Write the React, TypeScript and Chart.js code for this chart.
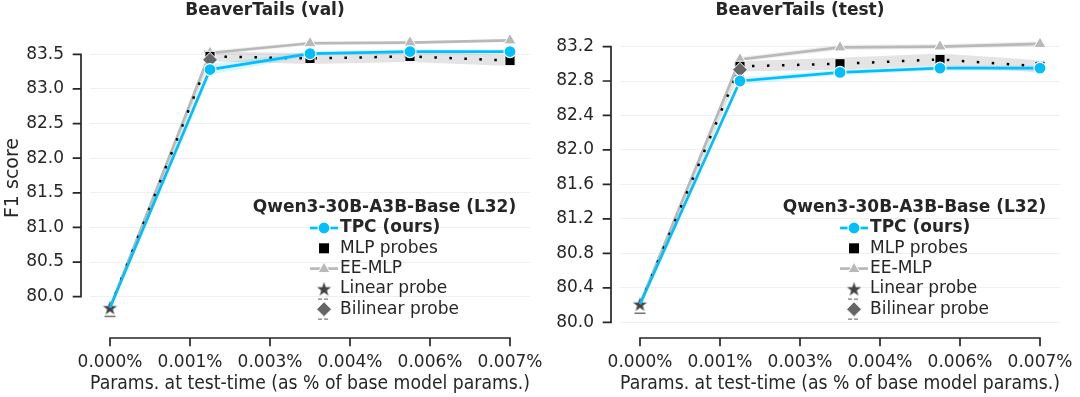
import React, { useEffect, useRef } from 'react';
import { Chart, registerables } from 'chart.js';

Chart.register(...registerables);

// ---------- data ----------
const X_POINTS = [0, 0.00175, 0.0035, 0.00525, 0.007];
const X_TICK_VALUES = [0, 0.0014, 0.0028, 0.0042, 0.0056, 0.007];
const X_TICK_LABELS = ['0.000%', '0.001%', '0.003%', '0.004%', '0.006%', '0.007%'];
const X_TITLE = 'Params. at test-time (as % of base model params.)';
const BILINEAR_X = 0.00175;

const VAL_TITLE = 'BeaverTails (val)';
const VAL_TPC = [79.84, 83.28, 83.51, 83.54, 83.54];
const VAL_TPC_ERR = [0.04, 0.08, 0.03, 0.03, 0.03];
const VAL_MLP = [79.84, 83.47, 83.44, 83.47, 83.41];
const VAL_MLP_ERR = [0.05, 0.07, 0.08, 0.08, 0.08];
const VAL_EE = [79.84, 83.52, 83.66, 83.67, 83.7];
const VAL_EE_ERR = [0.05, 0.03, 0.03, 0.02, 0.02];
const VAL_LINEAR = 79.84;
const VAL_LINEAR_ERR = 0.125;
const VAL_BILINEAR = 83.42;
const VAL_BILINEAR_ERR = 0.12;
const VAL_Y_TICKS = [80.0, 80.5, 81.0, 81.5, 82.0, 82.5, 83.0, 83.5];
const VAL_Y_MIN = 79.548;
const VAL_Y_MAX = 83.88;

const TEST_TITLE = 'BeaverTails (test)';
const TEST_TPC = [80.21, 82.8, 82.9, 82.95, 82.95];
const TEST_TPC_ERR = [0.04, 0.04, 0.03, 0.03, 0.03];
const TEST_MLP = [80.21, 82.97, 83.0, 83.05, 82.97];
const TEST_MLP_ERR = [0.05, 0.06, 0.07, 0.07, 0.07];
const TEST_EE = [80.21, 83.05, 83.19, 83.2, 83.23];
const TEST_EE_ERR = [0.04, 0.03, 0.03, 0.03, 0.03];
const TEST_LINEAR = 80.21;
const TEST_LINEAR_ERR = 0.105;
const TEST_BILINEAR = 82.93;
const TEST_BILINEAR_ERR = 0.07;
const TEST_Y_TICKS = [80.0, 80.4, 80.8, 81.2, 81.6, 82.0, 82.4, 82.8, 83.2];
const TEST_Y_MIN = 79.934;
const TEST_Y_MAX = 83.415;

const LEGEND_TITLE = 'Qwen3-30B-A3B-Base (L32)';
const LEGEND_LABELS = ['TPC (ours)', 'MLP probes', 'EE-MLP', 'Linear probe', 'Bilinear probe'];
const Y_TITLE = 'F1 score';

// ---------- styles ----------
const FONT = "'DejaVu Sans', 'Liberation Sans', sans-serif";
const FS = 17;
const FS_LABEL = 19;
const TEXT = '#262626';
const CYAN = '#00bfff';
const EE_GRAY = '#b9b9b9';
const STAR_COLOR = '#444444';
const DIAMOND_COLOR = '#666666';
const ERR_COLOR = '#7a7a7a';

function makeStar(color: string, R: number): HTMLCanvasElement {
  const size = Math.ceil(R * 2 + 2);
  const c = document.createElement('canvas');
  c.width = size;
  c.height = size;
  const g = c.getContext('2d')!;
  g.fillStyle = color;
  g.beginPath();
  for (let i = 0; i < 10; i++) {
    const r = i % 2 === 0 ? R : R * 0.4;
    const a = -Math.PI / 2 + (i * Math.PI) / 5;
    const px = size / 2 + r * Math.cos(a);
    const py = size / 2 + r * Math.sin(a) + 0.6;
    if (i === 0) g.moveTo(px, py);
    else g.lineTo(px, py);
  }
  g.closePath();
  g.fill();
  return c;
}

type Panel = {
  title: string;
  tpc: number[]; tpcErr: number[];
  mlp: number[]; mlpErr: number[];
  ee: number[]; eeErr: number[];
  linear: number; linearErr: number;
  bilinear: number; bilinearErr: number;
  yTicks: number[]; yMin: number; yMax: number;
  yTitle: string | null;
  yAxisWidth: number;
  padRight: number;
  width: number;
};

const PANELS: Panel[] = [
  {
    title: VAL_TITLE, tpc: VAL_TPC, tpcErr: VAL_TPC_ERR, mlp: VAL_MLP, mlpErr: VAL_MLP_ERR,
    ee: VAL_EE, eeErr: VAL_EE_ERR, linear: VAL_LINEAR, linearErr: VAL_LINEAR_ERR,
    bilinear: VAL_BILINEAR, bilinearErr: VAL_BILINEAR_ERR, yTicks: VAL_Y_TICKS,
    yMin: VAL_Y_MIN, yMax: VAL_Y_MAX, yTitle: Y_TITLE, yAxisWidth: 90, padRight: 30, width: 560,
  },
  {
    title: TEST_TITLE, tpc: TEST_TPC, tpcErr: TEST_TPC_ERR, mlp: TEST_MLP, mlpErr: TEST_MLP_ERR,
    ee: TEST_EE, eeErr: TEST_EE_ERR, linear: TEST_LINEAR, linearErr: TEST_LINEAR_ERR,
    bilinear: TEST_BILINEAR, bilinearErr: TEST_BILINEAR_ERR, yTicks: TEST_Y_TICKS,
    yMin: TEST_Y_MIN, yMax: TEST_Y_MAX, yTitle: null, yAxisWidth: 80, padRight: 20, width: 540,
  },
];

const pts = (vals: number[]) => X_POINTS.map((x, i) => ({ x, y: vals[i] }));
const band = (vals: number[], err: number[], sign: number) =>
  X_POINTS.map((x, i) => ({ x, y: vals[i] + sign * err[i] }));

function buildChart(canvas: HTMLCanvasElement, p: Panel): Chart {
  const star = makeStar(STAR_COLOR, 7.5);
  const legendStar = makeStar(STAR_COLOR, 7.5);
  const markerRadii = [0, 6, 6, 6, 6];

  const overlay = {
    id: 'overlay',
    beforeDatasetsDraw(chart: any) {
      const { ctx, scales } = chart;
      const xs = scales.x, ys = scales.y;
      ctx.save();
      ctx.strokeStyle = ERR_COLOR;
      ctx.lineWidth = 1.6;
      // linear probe: lower cap (upper one hidden below the lines/star)
      const lx = xs.getPixelForValue(0);
      const lb = ys.getPixelForValue(p.linear - p.linearErr);
      ctx.beginPath();
      ctx.moveTo(lx - 5.5, lb); ctx.lineTo(lx + 5.5, lb);
      ctx.stroke();
      // bilinear probe: caps above and below
      const bx = xs.getPixelForValue(BILINEAR_X);
      const bt = ys.getPixelForValue(p.bilinear + p.bilinearErr);
      const bb = ys.getPixelForValue(p.bilinear - p.bilinearErr);
      ctx.setLineDash([4, 2]);
      ctx.beginPath();
      ctx.moveTo(bx - 6, bt); ctx.lineTo(bx + 6, bt);
      ctx.moveTo(bx - 6, bb); ctx.lineTo(bx + 6, bb);
      ctx.stroke();
      ctx.restore();
    },
    afterDraw(chart: any) {
      const { ctx, scales, chartArea: ca } = chart;
      const xs = scales.x, ys = scales.y;
      ctx.save();
      ctx.strokeStyle = TEXT;
      ctx.lineWidth = 1.7;
      ctx.lineCap = 'butt';
      // y spine (offset, trimmed)
      const sx = ca.left - 9;
      const yTop = ys.getPixelForValue(p.yTicks[p.yTicks.length - 1]);
      const yBot = ys.getPixelForValue(p.yTicks[0]);
      ctx.beginPath();
      ctx.moveTo(sx, yTop - 0.85); ctx.lineTo(sx, yBot + 0.85);
      for (const t of p.yTicks) {
        const py = ys.getPixelForValue(t);
        ctx.moveTo(sx - 8.3, py); ctx.lineTo(sx, py);
      }
      ctx.stroke();
      // x spine
      const sy = ca.bottom + 10;
      const xl = xs.getPixelForValue(X_TICK_VALUES[0]);
      const xr = xs.getPixelForValue(X_TICK_VALUES[X_TICK_VALUES.length - 1]);
      ctx.beginPath();
      ctx.moveTo(xl - 0.85, sy); ctx.lineTo(xr + 0.85, sy);
      for (const t of X_TICK_VALUES) {
        const px = xs.getPixelForValue(t);
        ctx.moveTo(px, sy); ctx.lineTo(px, sy + 8.3);
      }
      ctx.stroke();

      // legend
      const cx = ca.right - 145.5;
      const titleY = ca.top + 179.5;
      ctx.fillStyle = TEXT;
      ctx.textBaseline = 'middle';
      ctx.textAlign = 'center';
      ctx.font = `bold ${FS}px ${FONT}`;
      ctx.fillText(LEGEND_TITLE, cx, titleY);
      ctx.textAlign = 'left';
      let maxW = 0;
      LEGEND_LABELS.forEach((l, i) => {
        ctx.font = `${i === 0 ? 'bold ' : ''}${FS}px ${FONT}`;
        maxW = Math.max(maxW, ctx.measureText(l).width);
      });
      const blockW = 28 + 2 + maxW;
      const x0 = cx - blockW / 2;
      const hc = x0 + 14;
      LEGEND_LABELS.forEach((l, i) => {
        const y = ca.top + 200 + i * 20.3;
        ctx.font = `${i === 0 ? 'bold ' : ''}${FS}px ${FONT}`;
        ctx.fillStyle = TEXT;
        ctx.fillText(l, x0 + 30, y);
        if (i === 0) {
          ctx.strokeStyle = CYAN; ctx.lineWidth = 2.7;
          ctx.beginPath(); ctx.moveTo(x0, y); ctx.lineTo(x0 + 28, y); ctx.stroke();
          ctx.fillStyle = CYAN; ctx.strokeStyle = '#fff'; ctx.lineWidth = 1.2;
          ctx.beginPath(); ctx.arc(hc, y, 6, 0, Math.PI * 2); ctx.fill(); ctx.stroke();
        } else if (i === 1) {
          ctx.fillStyle = '#000';
          ctx.fillRect(hc - 5, y - 5, 10, 10);
        } else if (i === 2) {
          ctx.strokeStyle = EE_GRAY; ctx.lineWidth = 2.7;
          ctx.beginPath(); ctx.moveTo(x0, y); ctx.lineTo(x0 + 28, y); ctx.stroke();
          ctx.fillStyle = EE_GRAY; ctx.strokeStyle = '#fff'; ctx.lineWidth = 1;
          ctx.beginPath();
          ctx.moveTo(hc, y - 6.5); ctx.lineTo(hc + 6, y + 4); ctx.lineTo(hc - 6, y + 4); ctx.closePath();
          ctx.fill(); ctx.stroke();
        } else if (i === 3) {
          ctx.drawImage(legendStar, hc - legendStar.width / 2, y - legendStar.height / 2);
        } else {
          ctx.strokeStyle = ERR_COLOR; ctx.lineWidth = 1.3;
          ctx.setLineDash([4, 2]);
          ctx.beginPath();
          ctx.moveTo(hc - 6, y - 10); ctx.lineTo(hc + 6, y - 10);
          ctx.moveTo(hc - 6, y + 10); ctx.lineTo(hc + 6, y + 10);
          ctx.stroke();
          ctx.setLineDash([]);
          ctx.fillStyle = DIAMOND_COLOR; ctx.strokeStyle = '#fff'; ctx.lineWidth = 1;
          ctx.beginPath();
          ctx.moveTo(hc, y - 7.5); ctx.lineTo(hc + 7.5, y); ctx.lineTo(hc, y + 7.5); ctx.lineTo(hc - 7.5, y); ctx.closePath();
          ctx.fill(); ctx.stroke();
        }
      });
      ctx.restore();
    },
  };

  const tickFont = { family: FONT, size: FS };
  const labelFont = { family: FONT, size: FS_LABEL };

  return new Chart(canvas, {
    type: 'line',
    data: {
      datasets: [
        {
          label: 'TPC', data: pts(p.tpc), borderColor: CYAN, borderWidth: 2.7,
          pointRadius: markerRadii, pointBackgroundColor: CYAN, pointBorderColor: '#ffffff',
          pointBorderWidth: 1.2, pointStyle: 'circle', tension: 0, order: 0, fill: false,
        },
        {
          label: 'Bilinear', data: [{ x: BILINEAR_X, y: p.bilinear }], showLine: false,
          pointStyle: 'rectRot', pointRadius: 7.5, pointBackgroundColor: DIAMOND_COLOR,
          pointBorderColor: '#ffffff', pointBorderWidth: 1, order: 1,
        },
        {
          label: 'Linear', data: [{ x: 0, y: p.linear }], showLine: false,
          pointStyle: star as any, pointRadius: 8, order: 2,
        },
        {
          label: 'MLP', data: pts(p.mlp), borderColor: '#000000', borderWidth: 2.5,
          borderDash: [2.5, 12.5], pointStyle: 'rect', pointRadius: [0, 7.2, 7.2, 7.2, 7.2],
          pointBackgroundColor: '#000000', pointBorderColor: '#ffffff', pointBorderWidth: 1,
          tension: 0, order: 3, fill: false,
        },
        {
          label: 'EE', data: pts(p.ee), borderColor: EE_GRAY, borderWidth: 2.7,
          pointStyle: 'triangle', pointRadius: [0, 7, 7, 7, 7], pointBackgroundColor: EE_GRAY,
          pointBorderColor: '#ffffff', pointBorderWidth: 1, tension: 0, order: 4, fill: false,
        },
        {
          label: 'tpcLo', data: band(p.tpc, p.tpcErr, -1), borderColor: 'transparent',
          borderWidth: 0, pointRadius: 0, fill: false, order: 5,
        },
        {
          label: 'tpcHi', data: band(p.tpc, p.tpcErr, 1), borderColor: 'transparent',
          borderWidth: 0, pointRadius: 0, fill: '-1', backgroundColor: 'rgba(0,191,255,0.15)', order: 5,
        },
        {
          label: 'mlpLo', data: band(p.mlp, p.mlpErr, -1), borderColor: 'transparent',
          borderWidth: 0, pointRadius: 0, fill: false, order: 6,
        },
        {
          label: 'mlpHi', data: band(p.mlp, p.mlpErr, 1), borderColor: 'transparent',
          borderWidth: 0, pointRadius: 0, fill: '-1', backgroundColor: 'rgba(120,120,120,0.2)', order: 6,
        },
        {
          label: 'eeLo', data: band(p.ee, p.eeErr, -1), borderColor: 'transparent',
          borderWidth: 0, pointRadius: 0, fill: false, order: 7,
        },
        {
          label: 'eeHi', data: band(p.ee, p.eeErr, 1), borderColor: 'transparent',
          borderWidth: 0, pointRadius: 0, fill: '-1', backgroundColor: 'rgba(170,170,170,0.18)', order: 7,
        },
      ] as any,
    },
    options: {
      responsive: false,
      animation: false,
      devicePixelRatio: 1,
      layout: { padding: { left: 0, right: p.padRight, top: 0, bottom: 0 } },
      plugins: {
        legend: { display: false },
        tooltip: { enabled: false },
        title: {
          display: true, text: p.title, color: TEXT,
          font: { family: FONT, size: FS, weight: 'bold' },
          padding: { top: 0, bottom: 7.6 },
        },
      },
      scales: {
        x: {
          type: 'linear', min: -0.00035, max: 0.00735,
          afterBuildTicks: (s: any) => { s.ticks = X_TICK_VALUES.map((v) => ({ value: v })); },
          afterFit: (s: any) => { s.height = 69; s.paddingLeft = 0; s.paddingRight = 0; },
          grid: { display: false, drawTicks: false },
          border: { display: false },
          ticks: {
            padding: 24.5, color: TEXT, font: tickFont, autoSkip: false, maxRotation: 0,
            callback: (_v: any, i: number) => X_TICK_LABELS[i],
          },
          title: {
            display: true, text: X_TITLE, color: TEXT, font: labelFont,
            padding: { top: 0, bottom: 1.5 },
          },
        },
        y: {
          type: 'linear', min: p.yMin, max: p.yMax,
          afterBuildTicks: (s: any) => { s.ticks = p.yTicks.map((v) => ({ value: v })); },
          afterFit: (s: any) => { s.width = p.yAxisWidth; s.paddingTop = 0; s.paddingBottom = 0; },
          grid: { color: '#efefef', lineWidth: 1, drawTicks: false },
          border: { display: false },
          ticks: {
            padding: 26, color: TEXT, font: tickFont, autoSkip: false,
            callback: (v: any) => Number(v).toFixed(1),
          },
          title: {
            display: !!p.yTitle, text: p.yTitle || '', color: TEXT, font: labelFont,
            padding: { top: 1.5, bottom: 0 },
          },
        },
      },
    } as any,
    plugins: [overlay as any],
  });
}

function PanelChart({ panel, left }: { panel: Panel; left: number }) {
  const ref = useRef<HTMLCanvasElement | null>(null);
  useEffect(() => {
    if (!ref.current) return;
    const chart = buildChart(ref.current, panel);
    return () => chart.destroy();
  }, [panel]);
  return (
    <canvas
      ref={ref}
      width={panel.width}
      height={397}
      style={{ position: 'absolute', left, top: 0, width: panel.width, height: 397 }}
    />
  );
}

export default function App() {
  return (
    <div style={{ position: 'absolute', left: 0, top: 0, width: 1080, height: 397, background: '#ffffff', overflow: 'hidden' }}>
      <PanelChart panel={PANELS[0]} left={0} />
      <PanelChart panel={PANELS[1]} left={540} />
    </div>
  );
}
